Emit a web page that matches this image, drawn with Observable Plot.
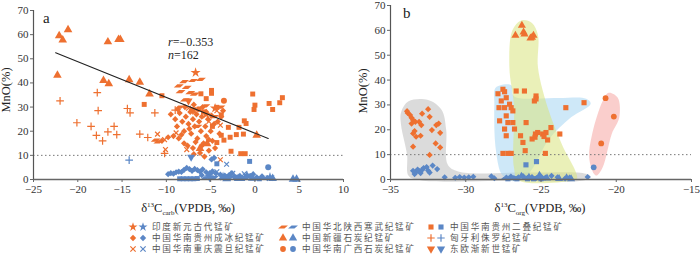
<!DOCTYPE html>
<html><head><meta charset="utf-8">
<script src="https://cdn.jsdelivr.net/npm/d3@7"></script>
<script src="https://cdn.jsdelivr.net/npm/@observablehq/plot@0.6"></script>
<style>
body{margin:0;background:#fff;}
#wrap{position:relative;width:700px;height:257px;background:#fff;overflow:hidden;}
#pa,#pb{position:absolute;top:0;}
#pa{left:0;} #pb{left:350px;}
#ov{position:absolute;left:0;top:0;pointer-events:none;}
</style></head>
<body><div id="wrap"><div id="pa"></div><div id="pb"></div><svg id="ov" width="700" height="257"></svg></div>
<script>
const ORANGE = "#EE7030", BLUE = "#5B87C6";
const xTicksA = [-25,-20,-15,-10,-5,0,5,10];
const xTicksB = [-35,-30,-25,-20,-15];
const yTicks = [0,10,20,30,40,50,60,70];

// ---- panel a : δ13C carb vs MnO ----
const aOrangeTriangle = [[-22.3,43.2],[-22.1,59.5],[-21.7,57.8],[-21.1,62],[-17.1,41],[-16.6,57],[-16.5,39.7],[-15.4,58],[-15.2,58],[-14.2,41.3],[-13.0,40.3],[-11.9,35.4],[0.2,18.3],[-6.2,12.8],[-5.4,14.8]];
const aOrangePlus = [[-22,32.6],[-17.8,36],[-17.7,28.5],[-20.1,23.5],[-18.5,22],[-17.9,18.3],[-17.2,16],[-16.6,19.7],[-15.9,22],[-15.6,18.6],[-14.4,29.4],[-14.1,27.6],[-13.0,18.8],[-12.1,17.4],[-11.3,27.6],[-10.2,10.8],[-9,28.7]];
const aOrangeTimes = [[-11,18.8],[-10.2,16.5],[-8.9,19.3],[-10.1,12.4],[-7.7,12.4],[-3.9,8.2],[-3.9,22.5],[-6.8,28],[-5.2,24],[-7.5,29.5],[-4.3,28.5]];
const aOrangeSquare = [[-12.5,31.1],[-10.5,34.7],[-4.9,35.7],[-4.9,36.9],[-6.3,29.2],[-5.8,28],[-4.3,29.9],[-3.8,26.8],[-3.0,21.6],[-2.8,17.5],[-1.8,21.6],[-1.2,24.3],[-1.0,23.2],[-2.1,18.6],[-1.3,18.8],[-2.7,11.7],[-1.6,10.7],[-1.1,10.7],[-0.25,35.4],[0,30.8],[-0.1,29],[1.6,31.5],[2,29],[2.8,31.8],[3.1,33.9],[-4.3,15.3],[-3.8,18.3],[-5.5,33.5],[-6.1,35.5],[-3.5,16.3],[-4.8,22]];
const aOrangePgram = [[-8,40.5],[-7,41],[-6.1,41.5],[-8.6,38.8],[-7.7,38.2],[-8.4,36.4],[-7.3,36],[-6.8,35.4],[-11.2,16.3],[-10.9,15.6],[-8.5,30],[-7.9,33],[-5.6,30.5],[-4.6,26],[-6.5,22],[-3.9,30]];
const aOrangeStar = [[-6.7,44.3],[-5.5,27],[-4.5,29.5]];
const aOrangeCircle = [[-3.5,32.6]];
const aOrangeDown = [[-7.5,32.6],[-7.0,29]];
const aOrangeDiamond = [[-9.5,27],[-9.0,25],[-8.8,22],[-8.5,27.5],[-8.2,24],[-8.0,20],[-7.8,26],[-7.5,23],[-7.3,28],[-7.2,19],[-7.0,25],[-6.8,22],[-6.6,27],[-6.5,17],[-6.3,24],[-6.1,20],[-6.0,26],[-5.8,15],[-5.6,22],[-5.5,18],[-5.3,25],[-5.0,20],[-4.8,16],[-4.6,23],[-4.0,19],[-3.8,26],[-9.2,18],[-8.6,17],[-8.0,15],[-7.6,14],[-7.0,13],[-6.7,15.5],[-6.2,11],[-5.7,9.5],[-5.2,12],[-9.8,17.5],[-10.5,16],[-7.9,30],[-6.9,31],[-6.4,29],[-5.9,30],[-8.7,29],[-7.4,21],[-6.0,14],[-4.5,13],[-5.5,28],[-4.9,26.5],[-3.6,28.5],[-4.2,24],[-6.9,10.5],[-8.3,18.5],[-5.2,16.5]];
const aBlueDiamond = [[-9.8,2.2],[-9.5,2.6],[-9.2,2.4],[-8.9,3.0],[-8.6,3.3],[-8.3,3.1],[-8.0,4.0],[-7.7,4.8],[-7.4,4.3],[-7.1,3.6],[-6.8,4.4],[-6.5,3.9],[-6.2,3.3],[-5.9,4.2],[-5.5,3.0],[-5.1,2.6],[-4.8,3.4],[-4.4,2.5],[-3.9,2.0],[-3.4,1.6],[-2.9,1.9],[-2.3,1.2],[-1.7,1.5],[-1.1,1.0],[-0.5,1.4],[0.2,0.9],[0.8,1.3],[1.4,0.6],[-4.9,8.3],[-4.6,9.0],[-6.0,1.8],[-2.6,2.6],[-0.2,2.2]];
const aBlueSquare = [[-8.5,0.3],[-8.1,0.3],[-7.7,0.3],[-7.3,0.3],[-6.9,0.3],[-6.5,0.4],[-4.3,6.5],[-0.6,7.5],[-3.0,0.5],[-1.4,0.4],[0.5,0.3]];
const aBluePgram = [[-5.6,0.6],[-4.6,0.9],[-3.7,0.6],[-2.8,1.0],[-2.0,0.5],[-1.0,0.7],[0,0.4],[1.0,0.5],[-5.2,1.8]];
const aBlueTriangle = [[-3.2,0.3],[-1.9,0.4],[-0.3,0.5],[2.0,0.4],[4.3,0.1],[4.7,0.1]];
const aBlueTimes = [[-4.3,3.2],[-3.2,6.3],[-2.5,2.6],[-1.2,2.4]];
const aBlueStar = [[-3.6,1.2],[-0.9,1.8],[1.7,1.0]];
const aBlueCircle = [[1.5,5.1],[-2.2,0.8]];
const aBlueDown = [[-7.2,9.3],[-5.1,0.8]];
const aBluePlus = [[-14.2,8.0]];
const regX = [-22.5, 1.5];          // fitted line extent
const regIntercept = 19.2, regSlope = -1.48;

// ---- panel b : δ13C org vs MnO ----
const bOrangeDiamond = [[-33.86,26.8],[-33.7,25.9],[-33.6,24.8],[-33.5,23.9],[-33.6,22.5],[-33.35,23.2],[-32.9,26.5],[-32.5,28.3],[-32.4,25.2],[-32.95,21.9],[-33.1,23.2],[-33.5,18.5],[-33.3,17.2],[-33.0,17.6],[-33.5,13.2],[-31.96,21.9],[-31.8,22.5],[-31.7,18.8],[-32.0,14.5],[-31.7,12.9],[-32.4,9.9],[-32.25,19.9],[-33.9,27.5],[-33.4,19.5]];
const bOrangeSquare = [[-27.86,34.5],[-27.53,36.3],[-27.42,35.3],[-27.64,31.6],[-27.31,32.9],[-27.79,28.9],[-27.42,28.9],[-27.09,30.3],[-26.98,28.9],[-26.87,27.6],[-27.31,25.6],[-27.75,23.6],[-27.2,22.9],[-26.87,22.9],[-27.42,20.3],[-27.31,17.6],[-26.76,20.3],[-27.53,10.5],[-27.2,10.5],[-26.98,10.5],[-26.65,35.6],[-26.1,35.6],[-25.33,33.6],[-25.44,31.6],[-25.33,32.4],[-25.99,22.9],[-26.36,17.6],[-26.2,14.9],[-26.05,11.6],[-25.59,16.3],[-25.37,18.3],[-25.22,18.9],[-24.89,18.3],[-24.67,18.9],[-24.56,15.9],[-24.34,20.9],[-23.75,18.3],[-24.71,10.5],[-23.35,28.9],[-22.14,30.9],[-25.4,17.0],[-24.8,17.3]];
const bOrangeTriangle = [[-26.27,62],[-26.7,58],[-26.16,59.3],[-26.1,58.5],[-25.7,56.9],[-25.5,58],[-25.6,57.2]];
const bOrangeCircle = [[-20.71,32.7],[-20.16,25.3],[-21.0,14.5]];
const bBlueDiamond = [[-33.4,2.2],[-33.3,3.0],[-33.2,4.0],[-33.1,3.4],[-33.0,2.6],[-32.9,3.9],[-32.8,4.6],[-32.6,5.0],[-32.5,3.6],[-32.4,2.8],[-32.2,5.6],[-31.9,4.2],[-33.5,3.5],[-31.4,0.9],[-30.7,0.7],[-30.4,1.0],[-30.1,0.8],[-29.8,0.9],[-29.5,1.1],[-28.3,1.3],[-28.1,0.5],[-27.3,0.8],[-27.0,1.2],[-26.8,0.6],[-26.5,0.9],[-26.2,1.4],[-25.9,0.7],[-25.6,1.0],[-25.3,0.6],[-25.0,1.2],[-24.7,0.8],[-24.3,1.5],[-23.9,0.9],[-23.4,0.4],[-23.1,0.8],[-21.9,1.0]];
const bBlueTriangle = [[-26.3,1.2],[-25.8,0.8],[-25.1,1.6],[-24.6,0.5],[-23.8,0.3],[-23.3,0.6],[-23.0,0.2]];
const bBlueSquare = [[-26.0,5.9],[-25.3,7.2],[-27.2,0.3],[-26.6,0.3],[-25.9,0.3],[-25.5,0.3],[-25.0,0.3]];
const bBluePgram = [[-27.4,0.4],[-26.7,0.6],[-26.0,0.5],[-25.2,0.4],[-24.8,0.3]];
const bBlueCircle = [[-21.5,4.9]];
// envelope outlines (data units)
const hullGray = [[-34.3,27],[-33.8,31.5],[-32.5,32],[-31.6,28],[-31.3,20],[-31.2,6],[-30.5,3.2],[-26,2.8],[-22,2.3],[-21.7,1],[-22.2,-0.4],[-27,-0.5],[-33,-0.3],[-33.8,1.5],[-33.9,10],[-34.3,22]];
const hullBlue = [[-28.0,37],[-27,38],[-26.8,33.5],[-24,32.8],[-22,32.5],[-21.7,30.5],[-23,25],[-24.5,16],[-25.5,5],[-26.2,0],[-27,-0.5],[-27.6,2],[-28,12],[-28.1,30]];
const hullYellow = [[-26.3,64],[-25.6,63],[-25.2,58],[-25.2,45],[-24.5,28],[-23.6,14],[-22.6,0.5],[-23,-0.5],[-26.5,-0.3],[-26.8,5],[-26.8,30],[-27.1,45],[-26.9,60]];
const hullPink = [[-21.48,2.3],[-21.8,8.9],[-21.6,18.3],[-20.9,31.6],[-20.5,34.9],[-19.9,32.9],[-19.8,24.9],[-20.3,18.3],[-20.9,4.9],[-21.3,1.6]];

// legend
const legendLabels = ["印度新元古代锰矿","中国华南贵州成冰纪锰矿","中国华南重庆震旦纪锰矿","中国华北陕西寒武纪锰矿","中国新疆石炭纪锰矿","中国华南广西石炭纪锰矿","中国华南贵州二叠纪锰矿","匈牙利侏罗纪锰矿","东欧渐新世锰矿"];

// custom symbols
const pgram = {draw(ctx, size){const w=Math.sqrt(size)*1.25,h=w*0.5,k=h*0.55;
  ctx.moveTo(-w/2+k,-h/2);ctx.lineTo(w/2+k,-h/2);ctx.lineTo(w/2-k,h/2);ctx.lineTo(-w/2-k,h/2);ctx.closePath();}};
const downTri = {draw(ctx, size){const s=Math.sqrt(size/(3*Math.sqrt(3)));
  ctx.moveTo(0,2*s);ctx.lineTo(-Math.sqrt(3)*s,-s);ctx.lineTo(Math.sqrt(3)*s,-s);ctx.closePath();}};

const X = d=>d[0], Y = d=>d[1];
function fdot(data, symbol, color, r){ return Plot.dot(data,{x:X,y:Y,symbol,r,fill:color,stroke:"none"}); }
function sdot(data, symbol, color, r){ return Plot.dot(data,{x:X,y:Y,symbol,r,fill:"none",stroke:color,strokeWidth:1.2}); }

const style = {fontFamily:"'Liberation Serif', serif", fontSize:"11px", color:"#333", background:"transparent", overflow:"visible"};

const pa = Plot.plot({
  width:350, height:200, marginTop:10, marginBottom:21, marginLeft:33, marginRight:7,
  style,
  x:{domain:[-25,10]}, y:{domain:[0,70]},
  marks:[
    Plot.ruleY([10],{stroke:"#777",strokeDasharray:"1.5,2.5",strokeWidth:1}),
    sdot(aOrangePlus,"plus",ORANGE,2.6),
    sdot(aBluePlus,"plus",BLUE,2.6),
    fdot(aOrangeDiamond,"diamond2",ORANGE,2.8),
    fdot(aOrangeSquare,"square",ORANGE,2.8),
    fdot(aOrangePgram,pgram,ORANGE,2.9),
    fdot(aOrangeTriangle,"triangle",ORANGE,3.2),
    fdot(aOrangeStar,"star",ORANGE,3.2),
    fdot(aOrangeCircle,"circle",ORANGE,3.0),
    fdot(aOrangeDown,downTri,ORANGE,3.0),
    sdot(aOrangeTimes,"times",ORANGE,2.3),
    fdot(aBlueDiamond,"diamond2",BLUE,2.8),
    fdot(aBlueSquare,"square",BLUE,2.8),
    fdot(aBluePgram,pgram,BLUE,2.9),
    fdot(aBlueTriangle,"triangle",BLUE,3.2),
    fdot(aBlueStar,"star",BLUE,3.0),
    fdot(aBlueCircle,"circle",BLUE,3.0),
    fdot(aBlueDown,downTri,BLUE,3.0),
    sdot(aBlueTimes,"times",BLUE,2.3),
    Plot.line(regX,{x:d=>d,y:d=>regIntercept+regSlope*d,stroke:"#222",strokeWidth:1.1}),
    Plot.ruleY([0],{stroke:"#666",strokeWidth:1.5}),
    Plot.ruleX([-25],{stroke:"#555",strokeWidth:1.2}),
    Plot.axisX({ticks:xTicksA,tickSize:3,tickPadding:3,label:null,stroke:"#666"}),
    Plot.axisY({ticks:yTicks,tickSize:3,tickPadding:2,label:null,stroke:"#666"})
  ]
});
document.getElementById("pa").append(pa);

const pb = Plot.plot({
  width:350, height:200, marginTop:5, marginBottom:21, marginLeft:40, marginRight:9,
  style,
  x:{domain:[-35,-15]}, y:{domain:[0,70]},
  marks:[
    Plot.line(hullGray,{x:X,y:Y,curve:"catmull-rom-closed",fill:"#cfcfcf",fillOpacity:0.75,stroke:"none"}),
    Plot.line(hullBlue,{x:X,y:Y,curve:"catmull-rom-closed",fill:"#a6d6f2",fillOpacity:0.55,stroke:"none"}),
    Plot.line(hullYellow,{x:X,y:Y,curve:"catmull-rom-closed",fill:"#d8e37e",fillOpacity:0.55,stroke:"none"}),
    Plot.line(hullPink,{x:X,y:Y,curve:"catmull-rom-closed",fill:"#f7b3b0",fillOpacity:0.65,stroke:"none"}),
    Plot.ruleY([10],{stroke:"#777",strokeDasharray:"1.5,2.5",strokeWidth:1}),
    fdot(bOrangeDiamond,"diamond2",ORANGE,2.8),
    fdot(bOrangeSquare,"square",ORANGE,2.9),
    fdot(bOrangeTriangle,"triangle",ORANGE,3.0),
    fdot(bOrangeCircle,"circle",ORANGE,2.9),
    fdot(bBlueDiamond,"diamond2",BLUE,2.8),
    fdot(bBlueSquare,"square",BLUE,2.9),
    fdot(bBluePgram,pgram,BLUE,2.9),
    fdot(bBlueTriangle,"triangle",BLUE,3.0),
    fdot(bBlueCircle,"circle",BLUE,2.9),
    Plot.ruleY([0],{stroke:"#666",strokeWidth:1.5}),
    Plot.ruleX([-35],{stroke:"#555",strokeWidth:1.2}),
    Plot.axisX({ticks:xTicksB,tickSize:3,tickPadding:3,label:null,stroke:"#666"}),
    Plot.axisY({ticks:yTicks,tickSize:3,tickPadding:2,label:null,stroke:"#666"})
  ]
});
document.getElementById("pb").append(pb);

// ---- overlay texts & legend ----
const ov = d3.select("#ov");
const serif = "'Liberation Serif', serif";
ov.append("text").attr("x",43).attr("y",23).attr("font-family",serif).attr("font-size",15).attr("fill","#222").text("a");
ov.append("text").attr("x",403).attr("y",18).attr("font-family",serif).attr("font-size",15).attr("fill","#222").text("b");
const rt = ov.append("text").attr("x",168).attr("y",46).attr("font-family",serif).attr("font-size",12).attr("fill","#222");
rt.append("tspan").attr("font-style","italic").text("r"); rt.append("tspan").text("=−0.353");
const nt = ov.append("text").attr("x",168).attr("y",59).attr("font-family",serif).attr("font-size",12).attr("fill","#222");
nt.append("tspan").attr("font-style","italic").text("n"); nt.append("tspan").text("=162");

function ytitle(x, y){
  ov.append("text").attr("transform",`translate(${x},${y}) rotate(-90)`).attr("text-anchor","middle")
    .attr("font-family",serif).attr("font-size",12.5).attr("fill","#222").text("MnO(%)");
}
ytitle(10, 90); ytitle(367, 91);
function xtitle(cx, sub){
  const t = ov.append("text").attr("x",cx).attr("y",212).attr("text-anchor","middle")
    .attr("font-family",serif).attr("font-size",12.5).attr("fill","#222");
  t.append("tspan").text("δ");
  t.append("tspan").attr("font-size",7).attr("dy",-5).text("13");
  t.append("tspan").attr("dy",5).text("C");
  t.append("tspan").attr("font-size",7).attr("dy",2.5).text(sub);
  t.append("tspan").attr("dy",-2.5).text("(VPDB, ‰)");
}
xtitle(188,"carb"); xtitle(540,"org");

const legSyms = [d3.symbolStar, d3.symbolDiamond2, d3.symbolTimes, pgram, d3.symbolTriangle, d3.symbolCircle, d3.symbolSquare, d3.symbolPlus, downTri];
const colX = [[133,143,152],[283,293,302],[431,441,450]];
const rowY = [227,238,249];
legendLabels.forEach((lab,i)=>{
  const c = Math.floor(i/3), r = i%3;
  const [ox,bx,tx] = colX[c], y = rowY[r];
  const sym = legSyms[i];
  const stroked = (sym===d3.symbolTimes || sym===d3.symbolPlus);
  const size = sym===d3.symbolTriangle||sym===downTri ? 30 : 26;
  [[ox,ORANGE],[bx,BLUE]].forEach(([sx,col])=>{
    const p = ov.append("path").attr("d", d3.symbol(sym, stroked?20:size)()).attr("transform",`translate(${sx},${y})`);
    if (stroked) p.attr("fill","none").attr("stroke",col).attr("stroke-width",1.2);
    else p.attr("fill",col);
  });
  ov.append("text").attr("x",tx).attr("y",y+3.3).attr("font-family","'Noto Sans CJK SC', sans-serif")
    .attr("font-size",8.6).attr("letter-spacing","1.75px").attr("fill","#555").text(lab);
});
</script></body></html>
